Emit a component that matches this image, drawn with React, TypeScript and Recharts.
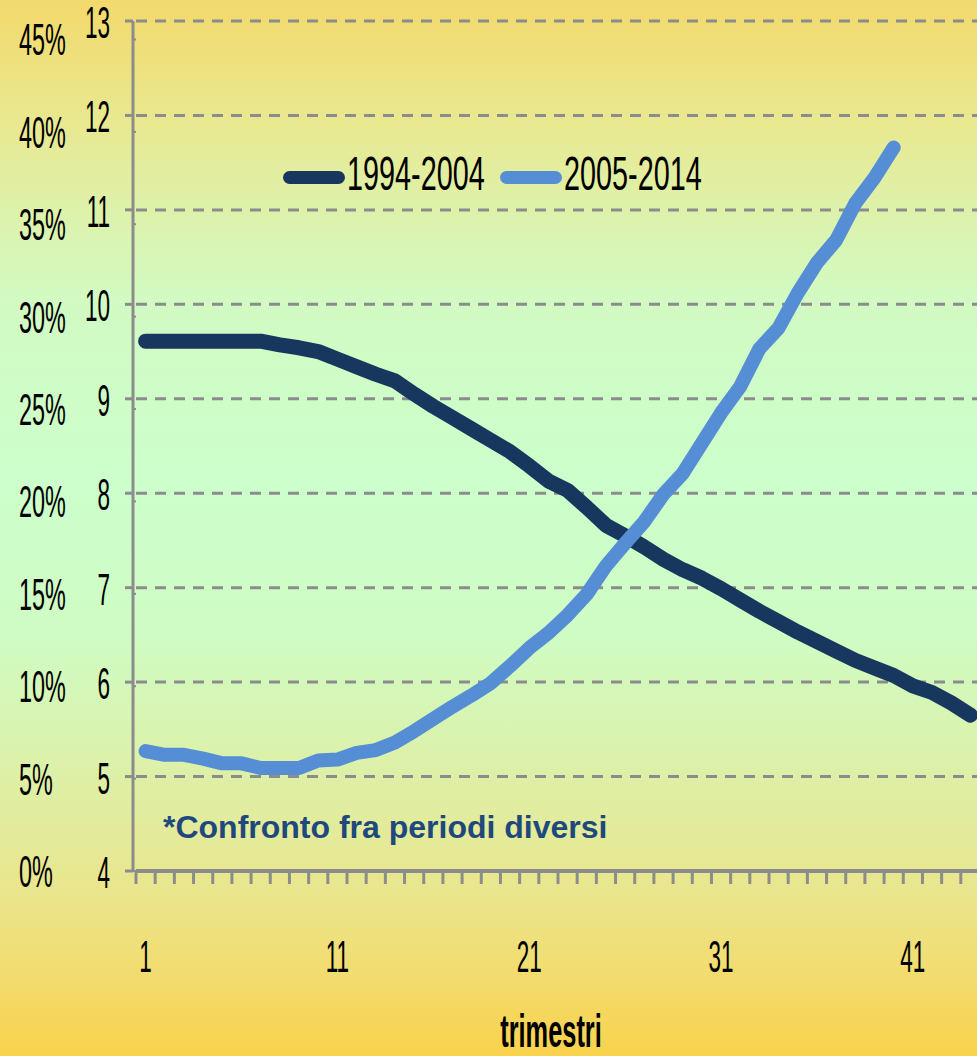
import React from 'react';
import { LineChart, Line, XAxis, YAxis, CartesianGrid, Legend } from 'recharts';

const trimestri = [
  1, 2, 3, 4, 5, 6, 7, 8, 9, 10, 11, 12, 13, 14, 15, 16, 17, 18, 19, 20, 21, 22,
  23, 24, 25, 26, 27, 28, 29, 30, 31, 32, 33, 34, 35, 36, 37, 38, 39, 40, 41, 42, 43, 44,
];

// 1994-2004 (44 trimestri)
const serie1994 = [
  9.61, 9.61, 9.61, 9.61, 9.61, 9.61, 9.61, 9.57, 9.54, 9.5, 9.42, 9.34, 9.26, 9.19,
  9.05, 8.92, 8.8, 8.68, 8.56, 8.44, 8.29, 8.13, 8.03, 7.85, 7.66, 7.55, 7.43, 7.3,
  7.19, 7.1, 6.99, 6.87, 6.75, 6.64, 6.53, 6.43, 6.33, 6.23, 6.15, 6.07, 5.96, 5.89,
  5.78, 5.65,
];

// 2005-2014 (40 trimestri)
const serie2005 = [
  5.27, 5.23, 5.23, 5.19, 5.14, 5.14, 5.09, 5.09, 5.09, 5.17, 5.18, 5.25, 5.28, 5.36,
  5.48, 5.61, 5.74, 5.86, 5.99, 6.17, 6.36, 6.52, 6.71, 6.93, 7.23, 7.47, 7.7, 7.99,
  8.21, 8.53, 8.85, 9.13, 9.53, 9.75, 10.12, 10.44, 10.68, 11.07, 11.34, 11.66,
];

const valueTicks = [4, 5, 6, 7, 8, 9, 10, 11, 12, 13];
const percentTicks = [0, 0.05, 0.1, 0.15, 0.2, 0.25, 0.3, 0.35, 0.4, 0.45];
const labelTicks = [1, 11, 21, 31, 41];
const boundaryTicks = trimestri.map((t) => t - 0.5);

const data = trimestri.map((t, i) => ({
  t,
  a: serie1994[i],
  b: serie2005[i],
}));

const GRAY = '#8C8C8C';
const DARK = '#17375E';
const LIGHT = '#558ED5';
const FONT = '"Liberation Sans", Arial, sans-serif';

const ValueTick = (props: any) => {
  const { y, payload } = props;
  return (
    <text transform={`translate(110,${y + 17}) scale(0.5,1)`} textAnchor="end" fontSize={45} fontFamily={FONT} fill="#000">
      {payload.value}
    </text>
  );
};

const PercentTick = (props: any) => {
  const { y, payload } = props;
  return (
    <text transform={`translate(19,${y + 16}) scale(0.52,1)`} textAnchor="start" fontSize={45} fontFamily={FONT} fill="#000">
      {`${Math.round(payload.value * 100)}%`}
    </text>
  );
};

const XTick = (props: any) => {
  const { x, payload } = props;
  return (
    <text transform={`translate(${x},972) scale(0.5,1)`} textAnchor="middle" fontSize={45} fontFamily={FONT} fill="#000">
      {payload.value}
    </text>
  );
};

const EmptyTick = () => <g />;

const XTitle = () => (
  <text transform="translate(551,1047) scale(0.54,1)" textAnchor="middle" fontSize={47} fontWeight="bold" fontFamily={FONT} fill="#000">
    trimestri
  </text>
);

const LegendContent = (props: any) => {
  const { payload = [] } = props;
  return (
    <div style={{ display: 'flex', height: 0, overflow: 'visible' }}>
      {payload.map((entry: any) => (
        <div key={entry.value} style={{ display: 'flex', alignItems: 'center', width: 217, height: 50, flexShrink: 0 }}>
          <div style={{ width: 62, height: 13, borderRadius: 7, background: entry.color }} />
          <div style={{ width: 150, height: 50, position: 'relative' }}>
            <span
              style={{
                position: 'absolute',
                left: 2,
                top: -3,
                fontSize: 48,
                lineHeight: '50px',
                fontFamily: FONT,
                color: '#000',
                whiteSpace: 'nowrap',
                transform: 'scale(0.6,1)',
                transformOrigin: 'left center',
              }}
            >
              {entry.value}
            </span>
          </div>
        </div>
      ))}
    </div>
  );
};

export default function App() {
  return (
    <div
      style={{
        position: 'absolute',
        left: 0,
        top: 0,
        width: 977,
        height: 1056,
        overflow: 'hidden',
        background:
          'linear-gradient(to bottom, #F3D96C 0%, #E8E992 12%, #D2FAC2 28%, #CCFFCC 45%, #CFFCC4 60%, #DCF1AA 72%, #E9E68E 84%, #F3DB6C 93%, #F9D24B 100%)',
      }}
    >
      <LineChart width={984} height={1056} data={data} margin={{ top: 21, right: 4, bottom: 0, left: 0 }}>
        <CartesianGrid xAxisId="b" yAxisId="v" vertical={false} stroke={GRAY} strokeWidth={3} strokeDasharray="11 8" />
        <XAxis
          xAxisId="b"
          dataKey="t"
          type="number"
          domain={[0.5, 44.5]}
          allowDataOverflow
          ticks={boundaryTicks}
          interval={0}
          tick={<EmptyTick />}
          tickSize={13}
          tickLine={{ stroke: GRAY, strokeWidth: 3 }}
          axisLine={{ stroke: GRAY, strokeWidth: 4 }}
          height={1}
        />
        <XAxis
          xAxisId="l"
          dataKey="t"
          type="number"
          domain={[0.5, 44.5]}
          allowDataOverflow
          ticks={labelTicks}
          interval={0}
          tick={<XTick />}
          tickLine={false}
          axisLine={false}
          height={184}
          label={<XTitle />}
        />
        <YAxis
          yAxisId="v"
          type="number"
          domain={[4, 13]}
          allowDataOverflow
          ticks={valueTicks}
          interval={0}
          width={133}
          tickSize={8}
          tick={<ValueTick />}
          tickLine={{ stroke: GRAY, strokeWidth: 3 }}
          axisLine={{ stroke: GRAY, strokeWidth: 3 }}
        />
        <YAxis
          yAxisId="p"
          type="number"
          domain={[0, 0.46]}
          allowDataOverflow
          ticks={percentTicks}
          interval={0}
          width={3}
          tickSize={4}
          tick={<PercentTick />}
          tickLine={{ stroke: GRAY, strokeWidth: 2 }}
          axisLine={false}
        />
        <Legend
          verticalAlign="top"
          align="left"
          content={<LegendContent />}
          wrapperStyle={{ top: 152, left: 283, width: 'auto', height: 0 }}
        />
        <Line
          xAxisId="b"
          yAxisId="v"
          type="linear"
          dataKey="a"
          name="1994-2004"
          stroke={DARK}
          strokeWidth={15}
          strokeLinecap="round"
          strokeLinejoin="round"
          dot={false}
          isAnimationActive={false}
        />
        <Line
          xAxisId="b"
          yAxisId="v"
          type="linear"
          dataKey="b"
          name="2005-2014"
          stroke={LIGHT}
          strokeWidth={14}
          strokeLinecap="round"
          strokeLinejoin="round"
          dot={false}
          isAnimationActive={false}
        />
      </LineChart>
      <div
        style={{
          position: 'absolute',
          left: 163,
          top: 811,
          fontSize: 32,
          lineHeight: '32px',
          fontWeight: 'bold',
          fontFamily: FONT,
          color: '#1F497D',
          whiteSpace: 'nowrap',
        }}
      >
        *Confronto fra periodi diversi
      </div>
    </div>
  );
}
